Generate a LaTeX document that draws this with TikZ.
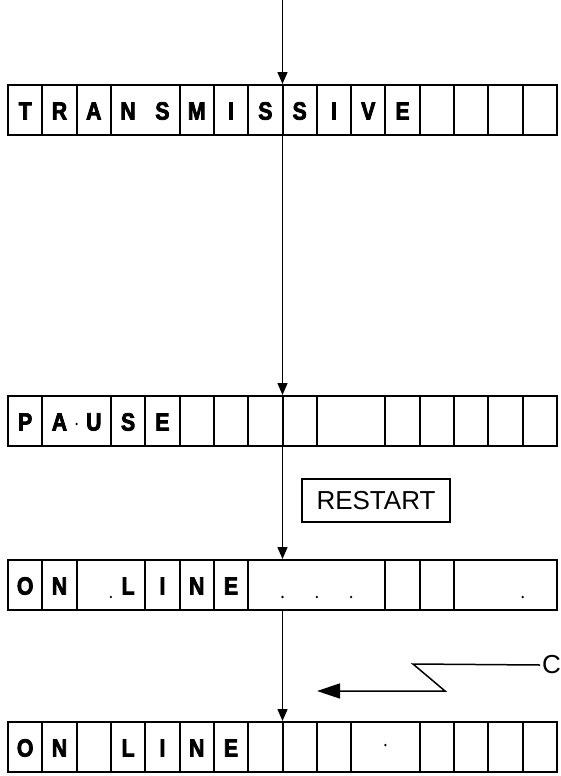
\documentclass[tikz,border=0pt]{standalone}
\usepackage{fontspec}
\newfontfamily\labfont{Liberation Sans}
\newfontfamily\cellfont{Liberation Sans Bold}[FakeStretch=0.85,FakeBold=3]
\usetikzlibrary{arrows.meta}
\tikzset{
  rowbox/.style={draw, line width=2pt, minimum width=549pt, minimum height=50pt, inner sep=0pt},
  divider/.style={line width=2pt},
  letter/.style={inner sep=0pt, font=\cellfont\fontsize{25}{25}\selectfont},
  flowline/.style={line width=1.5pt, -{Triangle[length=12pt,width=10pt]}},
  keybox/.style={draw, line width=1.5pt, minimum width=148pt, minimum height=43pt, inner sep=0pt, font=\labfont\fontsize{26}{26}\selectfont},
  labeltext/.style={inner sep=0pt, anchor=west, font=\labfont\fontsize{26}{26}\selectfont},
  boltline/.style={line width=1.5pt, -{Triangle[length=23pt,width=15pt]}},
  speck/.style={fill=black, draw=none}
}
\begin{document}
\begin{tikzpicture}[x=1pt,y=-1pt]
\useasboundingbox (0,0) rectangle (560,776);
\def\cw{34.3125}
% rows
\node[rowbox] (r1) at (282.5,110) {};
\node[rowbox] (r2) at (282.5,421) {};
\node[rowbox] (r3) at (282.5,585) {};
\node[rowbox] (r4) at (282.5,747) {};
% dividers
\foreach \k in {1,2,3,5,6,7,8,9,10,11,12,13,14,15}
  \draw[divider] (8+\k*\cw,85) -- (8+\k*\cw,135);
\foreach \k in {1,3,4,5,6,7,8,9,11,12,13,14,15}
  \draw[divider] (8+\k*\cw,396) -- (8+\k*\cw,446);
\foreach \k in {1,2,4,5,6,7,11,12,13}
  \draw[divider] (8+\k*\cw,560) -- (8+\k*\cw,610);
\foreach \k in {1,2,3,4,5,6,7,8,9,10,12,13,14,15}
  \draw[divider] (8+\k*\cw,722) -- (8+\k*\cw,772);
% letters
\foreach \ch [count=\i] in {T,R,A,N,S,M,I,S,S,I,V,E}
  \node[letter] (a\i) at (8+\i*\cw-0.5*\cw,111) {\ch};
\foreach \ch [count=\i] in {P,A,U,S,E}
  \node[letter] (b\i) at (8+\i*\cw-0.5*\cw,422) {\ch};
\foreach \ch/\i in {O/1,N/2,L/4,I/5,N/6,E/7}
  \node[letter] (c\i) at (8+\i*\cw-0.5*\cw,586) {\ch};
\foreach \ch/\i in {O/1,N/2,L/4,I/5,N/6,E/7}
  \node[letter] (d\i) at (8+\i*\cw-0.5*\cw,748) {\ch};
% specks
\fill[speck] (8+2*\cw,424) circle (1.3);
\foreach \k in {3,8,9,10,15}
  \fill[speck] (8+\k*\cw,597) circle (1.3);
\fill[speck] (8+11*\cw,745) circle (1.3);
% flow
\coordinate (top) at (282.5,0);
\draw[flowline] (top) -- (r1.north);
\draw[flowline] (r1.south) -- (r2.north);
\draw[flowline] (r2.south) -- (r3.north);
\draw[flowline] (r3.south) -- (r4.north);
% restart key
\node[keybox] (restart) at (376,500.5) {RESTART};
% bolt
\node[labeltext] (clabel) at (542,665) {C};
\coordinate (boltend) at (317,691);
\draw[boltline] ([xshift=-2pt]clabel.west) -- (413,664) -- (445,691) -- (boltend);
\end{tikzpicture}
\end{document}
